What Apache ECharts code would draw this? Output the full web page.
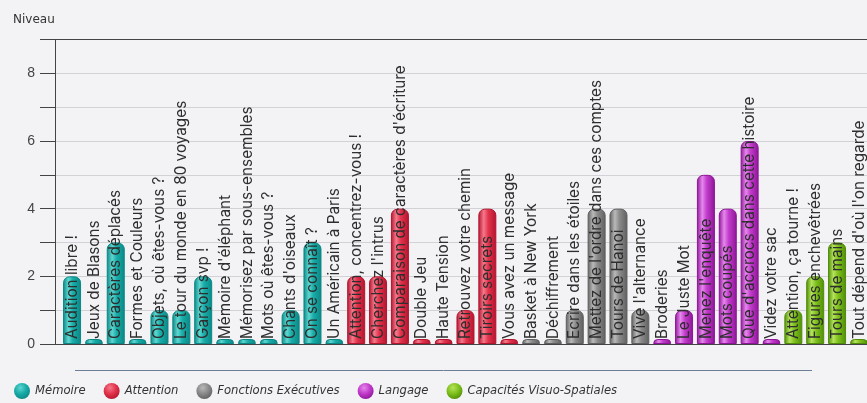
<!DOCTYPE html>
<html>
<head>
<meta charset="utf-8">
<script src="https://cdn.jsdelivr.net/npm/echarts@6/dist/echarts.min.js"></script>
<style>
html,body{margin:0;padding:0;background:#f3f3f6;}
#chart{width:867px;height:403px;}
</style>
</head>
<body>
<div id="chart"></div>
<script>
// ---- data ----
const groupNames = ['Mémoire', 'Attention', 'Fonctions Exécutives', 'Langage', 'Capacités Visuo-Spatiales'];

const memoireCats = ['Audition libre !', 'Jeux de Blasons', 'Caractères déplacés', 'Formes et Couleurs', 'Objets, où êtes-vous ?', 'Le tour du monde en 80 voyages', 'Garçon svp !', "Mémoire d'éléphant", 'Mémorisez par sous-ensembles', 'Mots où êtes-vous ?', "Chants d'oiseaux", 'On se connaît ?', 'Un Américain à Paris'];
const memoireVals = [2, 0, 3, 0, 1, 1, 2, 0, 0, 0, 1, 3, 0];

const attentionCats = ['Attention, concentrez-vous !', "Cherchez l'intrus", "Comparaison de caractères d'écriture", 'Double Jeu', 'Haute Tension', 'Retrouvez votre chemin', 'Tiroirs secrets', 'Vous avez un message'];
const attentionVals = [2, 2, 4, 0, 0, 1, 4, 0];

const executiveCats = ['Basket à New York', 'Déchiffrement', 'Ecrire dans les étoiles', "Mettez de l'ordre dans ces comptes", 'Tours de Hanoi', "Vive l'alternance"];
const executiveVals = [0, 0, 1, 4, 4, 1];

const langageCats = ['Broderies', 'Le Juste Mot', "Menez l'enquête", 'Mots coupés', "Que d'accrocs dans cette histoire", 'Videz votre sac'];
const langageVals = [0, 1, 5, 4, 6, 0];

const visuoCats = ['Attention, ça tourne !', 'Figures enchevêtrées', 'Tours de mains', "Tout dépend d'où l'on regarde"];
const visuoVals = [1, 2, 3, 0];

const yTicks = [0, 2, 4, 6, 8];

// ---- styles ----
const palettes = [
  {dark:'#0a8785', base:'#19aca8', light:'#5fd6d0'},
  {dark:'#b3142e', base:'#e2334c', light:'#f4798b'},
  {dark:'#5f5f5f', base:'#8a8a8a', light:'#b9b9b9'},
  {dark:'#8d1597', base:'#c23ccb', light:'#e588ec'},
  {dark:'#4f8c07', base:'#7fc11d', light:'#b5e35c'}
];
function barGrad(p){
  return new echarts.graphic.LinearGradient(0,0,1,0,[
    {offset:0,color:p.dark},{offset:0.3,color:p.light},{offset:0.55,color:p.base},{offset:1,color:p.dark}]);
}
function ballGrad(p){
  return new echarts.graphic.RadialGradient(0.4,0.3,0.75,[
    {offset:0,color:p.light},{offset:0.5,color:p.base},{offset:1,color:p.dark}]);
}

const groups = [
  [memoireCats, memoireVals],
  [attentionCats, attentionVals],
  [executiveCats, executiveVals],
  [langageCats, langageVals],
  [visuoCats, visuoVals]
];

let idx = 0;
const series = groups.map((g, gi) => {
  const data = g[0].map((c, i) => ({name: c, value: [idx + i, g[1][i]]}));
  idx += g[0].length;
  return {
    name: groupNames[gi],
    type: 'bar',
    barWidth: 18,
    barGap: '-100%',
    barMinHeight: 5,
    data: data,
    itemStyle: {color: barGrad(palettes[gi]), borderColor: palettes[gi].dark, borderWidth: 1, borderRadius: [6,6,0,0]},
    label: {
      show: true, position: 'insideBottom', rotate: 90, align: 'left', verticalAlign: 'middle',
      distance: 5, formatter: '{b}', color: '#2e2e2e', fontFamily: 'Inter', fontSize: 15.3
    }
  };
});
const total = idx;

const chart = echarts.init(document.getElementById('chart'));
chart.setOption({
  backgroundColor: '#f3f3f6',
  animation: false,
  title: {text: 'Niveau', left: 8, top: 9, textStyle: {fontFamily: 'DejaVu Sans', fontSize: 12, fontWeight: 'normal', color: '#333'}},
  grid: {left: 55, right: 0, top: 39.5, bottom: 59},
  xAxis: [
    {type: 'value', min: -0.78, max: total - 0.63, axisLine: {show: true, onZero: false, lineStyle: {color: '#444', width: 1}}, axisTick: {show: false}, axisLabel: {show: false}, splitLine: {show: false}},
    {type: 'value', position: 'top', min: -0.78, max: total - 0.63, axisLine: {show: true, onZero: false, lineStyle: {color: '#444', width: 1}}, axisTick: {show: false}, axisLabel: {show: false}, splitLine: {show: false}}
  ],
  yAxis: {
    type: 'value', min: 0, max: 9, interval: 1,
    axisLine: {show: true, onZero: false, lineStyle: {color: '#444'}},
    axisTick: {show: true, length: 15, lineStyle: {color: '#444'}},
    axisLabel: {margin: 20, color: '#444', fontFamily: 'Liberation Sans', fontSize: 14,
      formatter: v => yTicks.indexOf(v) >= 0 ? String(v) : ''},
    splitLine: {show: true, lineStyle: {color: '#d2d2d6', width: 1}}
  },
  legend: {
    left: 14, top: 383, padding: 0, itemWidth: 16, itemHeight: 16, itemGap: 18, icon: 'circle',
    textStyle: {fontFamily: 'DejaVu Sans', fontStyle: 'italic', fontSize: 11.6, color: '#333'},
    data: groupNames.map((n, i) => ({name: n, itemStyle: {color: ballGrad(palettes[i]), borderWidth: 0}}))
  },
  graphic: [{type: 'line', shape: {x1: 75, y1: 370.5, x2: 812, y2: 370.5}, style: {stroke: '#6d7f96', lineWidth: 1}}],
  series: series
});
</script>
</body>
</html>
